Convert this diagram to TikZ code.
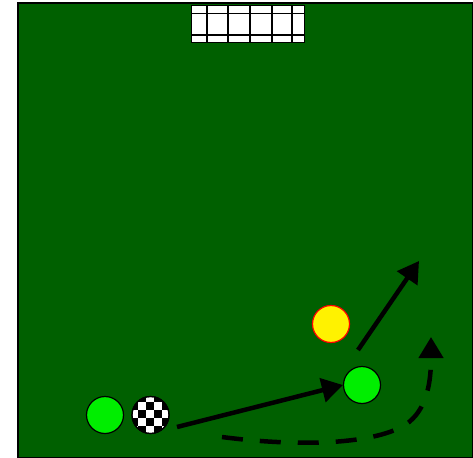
\documentclass[tikz,border=0pt]{standalone}
\usetikzlibrary{arrows.meta}
\definecolor{pitch}{RGB}{0,96,0}
\definecolor{mate}{RGB}{0,238,0}
\tikzset{
  player/.style={circle,draw=black,line width=1.2pt,fill=mate,minimum size=37pt,inner sep=0pt},
  opponent/.style={circle,draw=red,line width=1.2pt,fill=yellow,minimum size=37pt,inner sep=0pt},
  ballnode/.style={circle,draw=black,line width=1.2pt,minimum size=37pt,inner sep=0pt},
  move/.style={line width=4.5pt,-{Triangle[length=21pt,width=24pt]}},
  run/.style={move,dash pattern=on 21pt off 17pt},
  netline/.style={line width=1.5pt,draw=black}
}
\begin{document}
\begin{tikzpicture}[x=1pt,y=-1pt]
\useasboundingbox (0,0) rectangle (473,457);
% pitch
\draw[fill=pitch,line width=1.5pt] (18,3) rectangle (473,458);
% goal
\draw[netline,fill=white] (191.5,5.5) rectangle (304.5,42.5);
\foreach \gx in {207,228,250,272,292} \draw[netline] (\gx,5.5) -- (\gx,42.5);
\foreach \gy in {13.5,35} \draw[netline] (191.5,\gy) -- (304.5,\gy);
% players
\node[player] (p1) at (105,415) {};
\node[player] (p2) at (362,385) {};
\node[opponent] (o1) at (331,324) {};
% ball
\node[ballnode,fill=white] (ball) at (150.5,415) {};
\begin{scope}
\clip (150.5,415) circle (18.5);
\foreach \i in {0,...,5} \foreach \j in {0,...,5} {
  \pgfmathtruncatemacro{\odd}{mod(\i+\j,2)}
  \ifnum\odd=1
    \fill[black] (130+\i*8,394+\j*8) rectangle ++(8,8);
  \fi
}
\end{scope}
\node[ballnode] at (150.5,415) {};
% connectors
\coordinate (a1s) at (177,427);
\coordinate (a2s) at (358,350);
\coordinate (a2e) at (419,261);
\coordinate (d1s) at (222,437);
\coordinate (d1e) at (431,337);
\draw[move] (a1s) -- (p2.west);
\draw[move] (a2s) -- (a2e);
\draw[run] (d1s) .. controls (290,446) and (370,446) .. (405,425) .. controls (428,410) and (431,380) .. (d1e);
\end{tikzpicture}
\end{document}
